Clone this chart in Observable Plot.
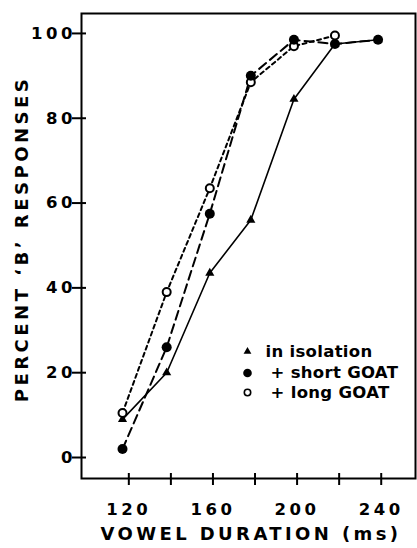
<!DOCTYPE html>
<html>
<head>
<meta charset="utf-8">
<script src="https://cdn.jsdelivr.net/npm/d3@7"></script>
<script src="https://cdn.jsdelivr.net/npm/@observablehq/plot@0.6"></script>
<style>
  html, body { margin: 0; padding: 0; background: #fff; }
</style>
</head>
<body>
<div id="chart"></div>
<script>
// ---- data ----
const durations = [117, 138, 158.5, 178, 198.5, 218, 238.5];      // vowel duration (ms)
const isolation = [9, 20, 43.5, 56, 84.5, 97.5, 98.5];             // in isolation (triangles)
const shortGoat = [2, 26, 57.5, 90, 98.5, 97.5, 98.5];             // + short GOAT (filled circles)
const longGoat  = [10.5, 39, 63.5, 88.5, 97, 99.5];                // + long GOAT (open circles)

const xTicks = [120, 140, 160, 180, 200, 220, 240];
const xTickLabels = [120, 160, 200, 240];
const yTicks = [0, 20, 40, 60, 80, 100];
const legendLabels = ["in isolation", "+ short GOAT", "+ long GOAT"];
const xTitle = "VOWEL DURATION (ms)";
const yTitle = "PERCENT \u2018B\u2019 RESPONSES";

const rows = (vals) => vals.map((v, i) => ({duration: durations[i], value: v}));
const isoRows = rows(isolation);
const shortRows = rows(shortGoat);
const longRows = rows(longGoat);

const font = "DejaVu Sans, sans-serif";
const legendDy = [338, 359.5, 379];
const legendTextDx = [184, 189, 189];

const legendMarks = [];
legendLabels.forEach((label, i) => {
  const dy = legendDy[i];
  if (i === 0) legendMarks.push(Plot.dot([0], {frameAnchor: "top-left", dx: 166, dy, symbol: "triangle", r: 2.9, fill: "black"}));
  if (i === 1) legendMarks.push(Plot.dot([0], {frameAnchor: "top-left", dx: 166, dy, r: 4.3, fill: "black"}));
  if (i === 2) legendMarks.push(Plot.dot([0], {frameAnchor: "top-left", dx: 166, dy, r: 3.2, fill: "white", stroke: "black", strokeWidth: 1.6}));
  legendMarks.push(Plot.text([label], {text: d => d, frameAnchor: "top-left", dx: legendTextDx[i], dy, textAnchor: "start", lineAnchor: "middle", fontSize: 16.5, fontWeight: "bold"}));
});

const chart = Plot.plot({
  width: 417,
  height: 548,
  marginLeft: 81,
  marginRight: 2,
  marginTop: 13,
  marginBottom: 70,
  style: {fontFamily: font, fontWeight: "bold", background: "white", color: "black", letterSpacing: "3.5px"},
  x: {domain: [97.5, 256.3], label: null},
  y: {domain: [-4.95, 104.7], label: null},
  marks: [
    Plot.frame({stroke: "black", strokeWidth: 2}),
    // tick marks crossing the axes
    Plot.axisX({ticks: xTicks, tickSize: 12, dy: -5, tickFormat: () => "", strokeWidth: 2}),
    Plot.axisY({ticks: yTicks, tickSize: 14, dx: 5, tickFormat: () => "", strokeWidth: 2}),
    // tick labels
    Plot.axisX({ticks: xTickLabels, tickSize: 0, tickPadding: 25, fontSize: 16.5, fontWeight: "bold"}),
    Plot.axisY({ticks: yTicks, tickSize: 0, tickPadding: 5.5, fontSize: 16.5, fontWeight: "bold"}),
    // titles
    Plot.text([xTitle], {text: d => d, frameAnchor: "bottom", textAnchor: "middle", dx: 2.5, dy: 55.5, lineAnchor: "middle", fontSize: 18, fontWeight: "bold"}),
    Plot.text([yTitle], {text: d => d, frameAnchor: "left", textAnchor: "middle", rotate: -90, dx: -59, dy: -7, lineAnchor: "middle", fontSize: 18, fontWeight: "bold"}),
    // series lines
    Plot.line(isoRows, {x: "duration", y: "value", stroke: "black", strokeWidth: 1.6}),
    Plot.line(shortRows, {x: "duration", y: "value", stroke: "black", strokeWidth: 2, strokeDasharray: "9,5"}),
    Plot.line(longRows, {x: "duration", y: "value", stroke: "black", strokeWidth: 2, strokeDasharray: "4,3.5"}),
    // markers
    Plot.dot(isoRows, {x: "duration", y: "value", symbol: "triangle", r: 3.4, fill: "black"}),
    Plot.dot(longRows, {x: "duration", y: "value", r: 4, fill: "white", stroke: "black", strokeWidth: 2}),
    Plot.dot(shortRows, {x: "duration", y: "value", r: 5, fill: "black"}),
    ...legendMarks
  ]
});

d3.select(chart).selectAll("text").each(function() {
  const t = this.textContent;
  if (legendLabels.includes(t)) this.style.letterSpacing = "0.3px";
  else if (t === yTitle) this.style.letterSpacing = "3.5px";
  else if (t === xTitle) this.style.letterSpacing = "3.4px";
});
document.getElementById("chart").appendChild(chart);
</script>
</body>
</html>
